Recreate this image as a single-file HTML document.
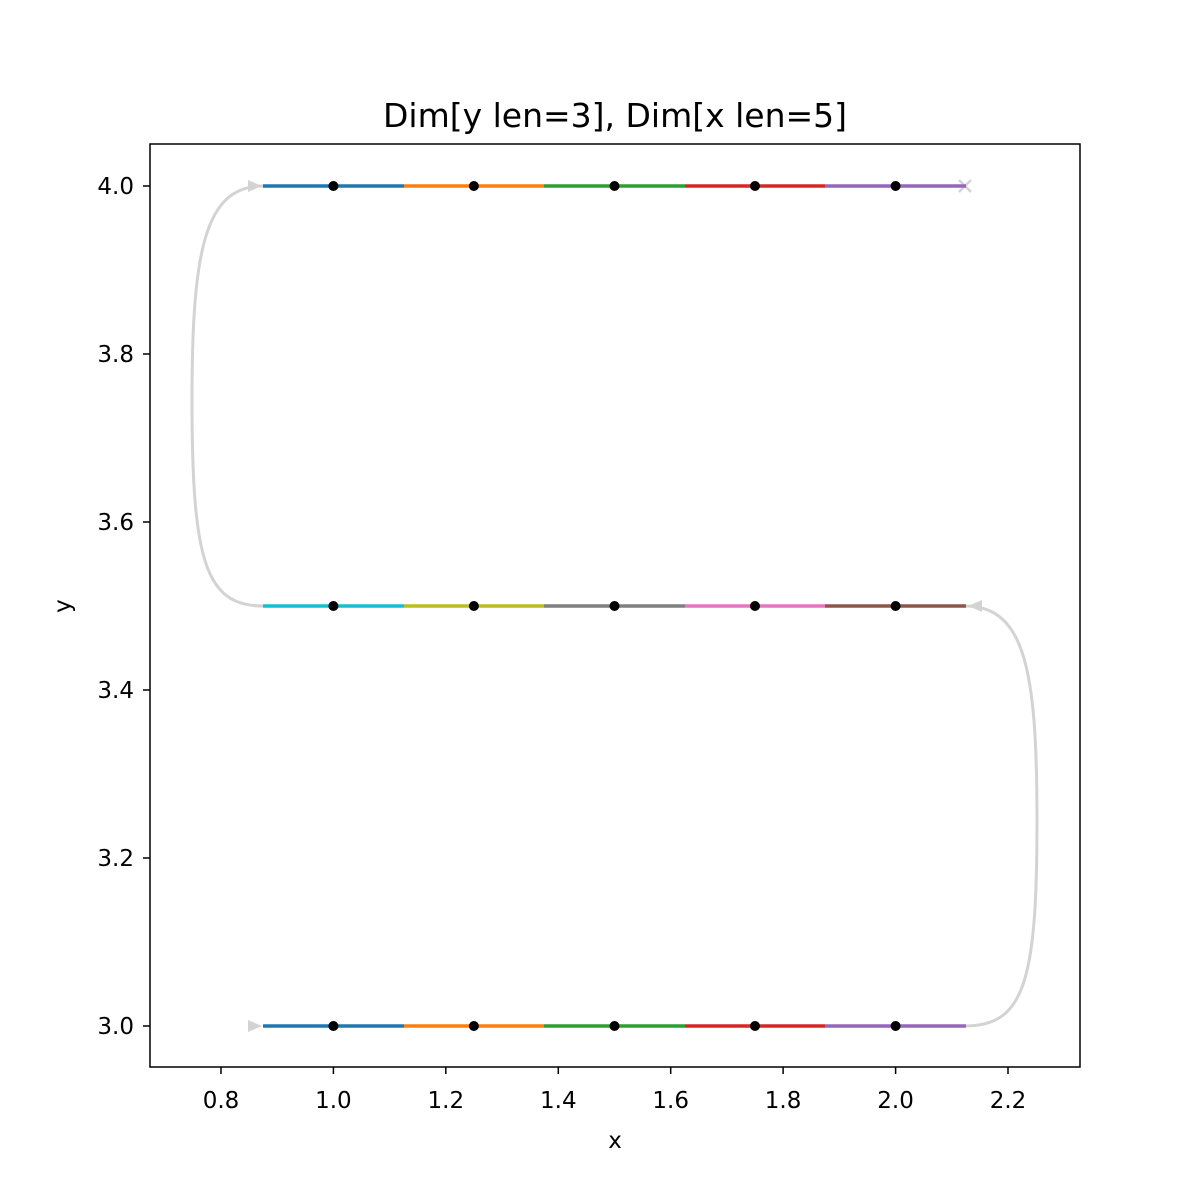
<!DOCTYPE html>
<html><head><style>body{margin:0;background:#fff}svg{display:block}</style></head>
<body>
<svg width="1200" height="1200" xmlns="http://www.w3.org/2000/svg" font-family="DejaVu Sans, Liberation Sans, sans-serif">
<rect width="1200" height="1200" fill="#fff"/>
<text x="615" y="127" font-size="33" text-anchor="middle">Dim[y len=3], Dim[x len=5]</text>
<g fill="none" stroke="#d3d3d3" stroke-width="3">
<path d="M263,606 C205,606 192,560 192,400 C192,250 205,186 263,186"/>
<path d="M965,1026 C1025,1026 1037,980 1037,820 C1037,670 1025,606 965,606"/>
</g>
<g fill="#d3d3d3">
<polygon points="248,180 248,192 262,186"/>
<polygon points="248,1020 248,1032 262,1026"/>
<polygon points="982,600 982,612 968,606"/>
</g>
<g stroke="#d3d3d3" stroke-width="2.5"><line x1="959" y1="180" x2="971" y2="192"/><line x1="959" y1="192" x2="971" y2="180"/></g>
<g stroke-width="3.5">
<line x1="263" y1="186" x2="404" y2="186" stroke="#1f77b4"/><line x1="404" y1="186" x2="544" y2="186" stroke="#ff7f0e"/><line x1="544" y1="186" x2="685" y2="186" stroke="#2ca02c"/><line x1="685" y1="186" x2="825" y2="186" stroke="#d62728"/><line x1="825" y1="186" x2="966" y2="186" stroke="#9467bd"/>
<line x1="263" y1="1026" x2="404" y2="1026" stroke="#1f77b4"/><line x1="404" y1="1026" x2="544" y2="1026" stroke="#ff7f0e"/><line x1="544" y1="1026" x2="685" y2="1026" stroke="#2ca02c"/><line x1="685" y1="1026" x2="825" y2="1026" stroke="#d62728"/><line x1="825" y1="1026" x2="966" y2="1026" stroke="#9467bd"/>
<line x1="263" y1="606" x2="404" y2="606" stroke="#17becf"/><line x1="404" y1="606" x2="544" y2="606" stroke="#bcbd22"/><line x1="544" y1="606" x2="685" y2="606" stroke="#7f7f7f"/><line x1="685" y1="606" x2="825" y2="606" stroke="#e377c2"/><line x1="825" y1="606" x2="966" y2="606" stroke="#8c564b"/>
</g>
<g fill="#000">
<circle cx="333.4" cy="186" r="5"/><circle cx="473.9" cy="186" r="5"/><circle cx="614.5" cy="186" r="5"/><circle cx="755" cy="186" r="5"/><circle cx="895.6" cy="186" r="5"/>
<circle cx="333.4" cy="606" r="5"/><circle cx="473.9" cy="606" r="5"/><circle cx="614.5" cy="606" r="5"/><circle cx="755" cy="606" r="5"/><circle cx="895.6" cy="606" r="5"/>
<circle cx="333.4" cy="1026" r="5"/><circle cx="473.9" cy="1026" r="5"/><circle cx="614.5" cy="1026" r="5"/><circle cx="755" cy="1026" r="5"/><circle cx="895.6" cy="1026" r="5"/>
</g>
<rect x="150" y="144" width="930" height="923" fill="none" stroke="#000" stroke-width="1.5"/>
<g stroke="#000" stroke-width="1.5">
<line x1="221" y1="1067" x2="221" y2="1074"/><line x1="333.4" y1="1067" x2="333.4" y2="1074"/><line x1="445.8" y1="1067" x2="445.8" y2="1074"/><line x1="558.3" y1="1067" x2="558.3" y2="1074"/><line x1="670.7" y1="1067" x2="670.7" y2="1074"/><line x1="783.1" y1="1067" x2="783.1" y2="1074"/><line x1="895.6" y1="1067" x2="895.6" y2="1074"/><line x1="1008" y1="1067" x2="1008" y2="1074"/>
<line x1="143" y1="186" x2="150" y2="186"/><line x1="143" y1="354" x2="150" y2="354"/><line x1="143" y1="522" x2="150" y2="522"/><line x1="143" y1="690" x2="150" y2="690"/><line x1="143" y1="858" x2="150" y2="858"/><line x1="143" y1="1026" x2="150" y2="1026"/>
</g>
<g font-size="23" text-anchor="middle">
<text x="221" y="1108">0.8</text><text x="333.4" y="1108">1.0</text><text x="445.8" y="1108">1.2</text><text x="558.3" y="1108">1.4</text><text x="670.7" y="1108">1.6</text><text x="783.1" y="1108">1.8</text><text x="895.6" y="1108">2.0</text><text x="1008" y="1108">2.2</text>
<text x="615" y="1148">x</text>
</g>
<g font-size="23" text-anchor="end">
<text x="134" y="194">4.0</text><text x="134" y="362">3.8</text><text x="134" y="530">3.6</text><text x="134" y="698">3.4</text><text x="134" y="866">3.2</text><text x="134" y="1034">3.0</text>
</g>
<text x="0" y="0" font-size="23" text-anchor="middle" transform="translate(70,606) rotate(-90)">y</text>
</svg>
</body></html>
